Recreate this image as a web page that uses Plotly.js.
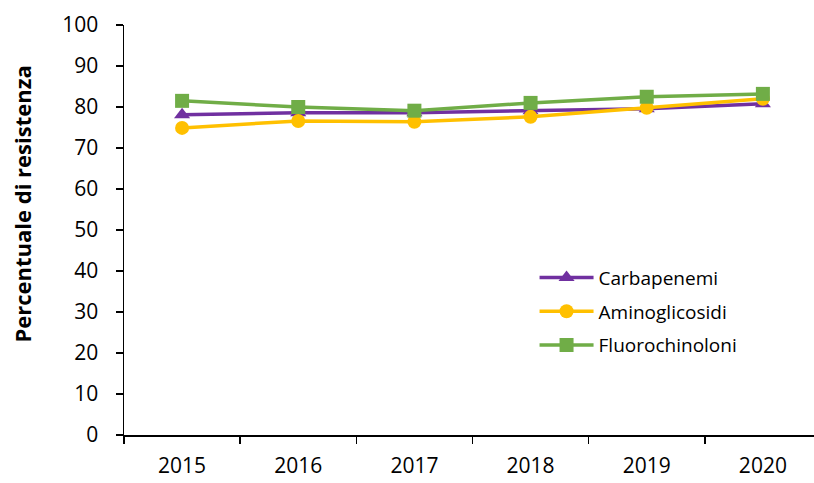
<!DOCTYPE html>
<html><head><meta charset="utf-8">
<script src="https://cdn.plot.ly/plotly-3.0.1.min.js"></script>
<style>body{margin:0}#c{width:814px;height:483px}</style>
</head><body><div id="c"></div>
<script>
const years = ['2015','2016','2017','2018','2019','2020'];
const carbapenemi = [78.1, 78.6, 78.6, 79.1, 79.6, 80.8];
const aminoglicosidi = [74.9, 76.6, 76.4, 77.6, 79.8, 82.0];
const fluorochinoloni = [81.5, 80.0, 79.1, 81.0, 82.5, 83.2];

const traces = [
  {name:'Carbapenemi', y:carbapenemi, color:'#7030A0', symbol:'triangle-up'},
  {name:'Aminoglicosidi', y:aminoglicosidi, color:'#FFC000', symbol:'circle'},
  {name:'Fluorochinoloni', y:fluorochinoloni, color:'#70AD47', symbol:'square'}
].map(s => ({
  x: years, y: s.y, name: s.name, legendgroup: s.name, type:'scatter', mode:'lines+markers',
  line:{color:s.color, width:3.5},
  marker:{color:s.color, symbol:s.symbol, size:14}
}));

const layout = {
  width:814, height:483,
  margin:{l:124, r:0, t:25, b:48},
  paper_bgcolor:'#fff', plot_bgcolor:'#fff',
  font:{family:'Open Sans, sans-serif', size:21, color:'#000'},
  showlegend:true,
  legend:{x:0.595, y:0.43, xanchor:'left', yanchor:'top', font:{size:19}, bgcolor:'rgba(0,0,0,0)',
    traceorder:'grouped', tracegroupgap:6, itemwidth:54},
  xaxis:{type:'category', range:[-0.5,5.44], showline:true, linecolor:'#000', linewidth:1.5,
    ticks:'outside', tickson:'boundaries', ticklen:7, tickcolor:'#000', tickwidth:1.5, showgrid:false, zeroline:false,
    tickfont:{size:21}, ticklabelstandoff:11},
  yaxis:{range:[0,100], dtick:10, showline:true, linecolor:'#000', linewidth:1.5,
    ticks:'outside', ticklen:7, tickcolor:'#000', tickwidth:1.5, showgrid:false, zeroline:false,
    tickfont:{size:21}, ticklabelstandoff:13},
  annotations:[{text:'<b>Percentuale di resistenza</b>', textangle:-90, showarrow:false,
    xref:'paper', yref:'paper', x:(22-124)/690, y:(436-205)/411, xanchor:'center', yanchor:'middle',
    font:{size:22}}]
};
Plotly.newPlot('c', traces, layout, {displayModeBar:false, staticPlot:true});
</script></body></html>
